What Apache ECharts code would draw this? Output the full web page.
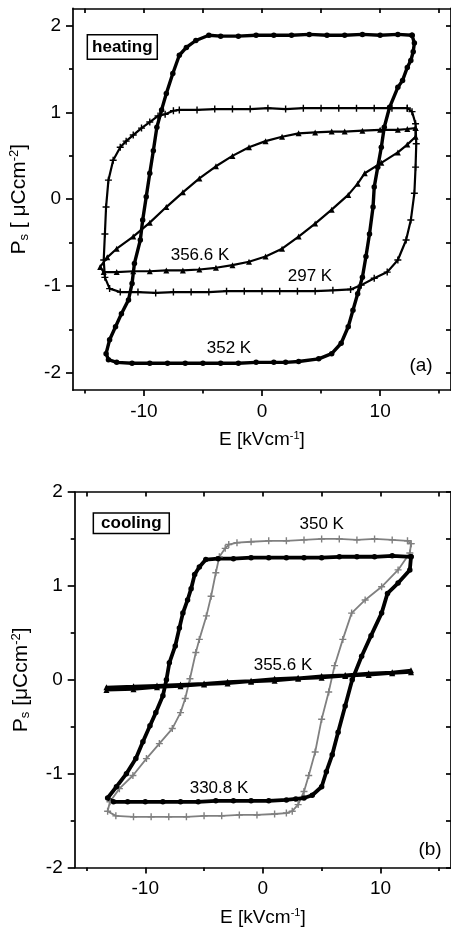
<!DOCTYPE html>
<html><head><meta charset="utf-8">
<script src="https://cdn.jsdelivr.net/npm/echarts@6/dist/echarts.min.js"></script>
<style>html,body{margin:0;padding:0;background:#fff}#c{width:451px;height:928px}</style>
</head><body><div id="c"></div>
<script>
// ---- tick values ----
const xMajorTicks = [-10, 0, 10];
const xMinorTicks = [-15, -5, 5, 15];
const xAllTicks = [-15, -10, -5, 0, 5, 10, 15];
const yMajorTicks = [-2, -1, 0, 1, 2];
const yMinorTicks = [-1.5, -0.5, 0.5, 1.5];
const yAllTicks = [-2, -1.5, -1, -0.5, 0, 0.5, 1, 1.5, 2];

// ---- (a) heating: [E (kV/cm), Ps (uC/cm2)] ----
const heat352 = [[12.7,1.89],[11.5,1.90],[10,1.89],[8.5,1.90],[7,1.89],[5.5,1.89],[4,1.90],[2.5,1.89],[1,1.89],[-0.5,1.89],[-2,1.88],[-3.5,1.88],[-4.5,1.89],[-5.6,1.83],[-6.4,1.75],[-7.0,1.66],[-7.55,1.45],[-8.1,1.22],[-8.5,1.03],[-8.9,0.83],[-9.2,0.56],[-9.5,0.30],[-9.8,0.03],[-10.1,-0.24],[-10.3,-0.47],[-10.8,-0.74],[-11.0,-0.97],[-11.3,-1.16],[-11.9,-1.32],[-12.4,-1.47],[-12.9,-1.62],[-13.2,-1.78],[-13.0,-1.85],[-12.3,-1.88],[-11,-1.89],[-9.5,-1.89],[-8,-1.89],[-6.5,-1.89],[-5,-1.89],[-3.5,-1.89],[-2,-1.89],[-0.5,-1.88],[1,-1.88],[2,-1.88],[3.1,-1.87],[4.8,-1.84],[5.9,-1.78],[6.7,-1.66],[7.3,-1.47],[7.7,-1.28],[8.1,-1.09],[8.5,-0.90],[8.8,-0.66],[9.1,-0.40],[9.4,-0.09],[9.5,0.14],[9.8,0.37],[10.1,0.60],[10.35,0.83],[10.8,1.06],[11.5,1.29],[11.9,1.37],[12.3,1.52],[12.6,1.60],[12.8,1.70],[12.9,1.80],[12.7,1.89]];
const heat297 = [[12.3,1.05],[11,1.05],[9.5,1.05],[8,1.05],[6.5,1.05],[5,1.05],[3.5,1.05],[2,1.04],[0.5,1.05],[-1,1.04],[-2.5,1.04],[-4,1.04],[-5.5,1.03],[-7,1.03],[-7.5,1.02],[-8.2,0.98],[-8.8,0.96],[-9.5,0.89],[-10.2,0.82],[-10.9,0.74],[-11.5,0.67],[-12.0,0.60],[-12.6,0.45],[-13.0,0.22],[-13.2,-0.09],[-13.3,-0.40],[-13.4,-0.70],[-13.3,-0.90],[-12.9,-1.03],[-12.0,-1.07],[-10.5,-1.07],[-9,-1.08],[-7.5,-1.07],[-6,-1.07],[-4.5,-1.07],[-3,-1.06],[-1.5,-1.06],[0,-1.06],[1.5,-1.06],[3,-1.06],[4.5,-1.06],[6,-1.05],[7.5,-1.04],[8.4,-0.99],[9.5,-0.91],[10.6,-0.84],[11.5,-0.70],[12.2,-0.47],[12.6,-0.24],[12.9,0.07],[13.0,0.37],[13.06,0.64],[13.0,0.87],[12.7,1.01],[12.3,1.05]];
const heat3566 = [[13.0,0.82],[12.3,0.81],[11.5,0.80],[10,0.80],[8.5,0.79],[7,0.78],[5.9,0.78],[4.5,0.77],[3.1,0.76],[1.7,0.72],[0.3,0.67],[-1.1,0.60],[-2.5,0.50],[-3.9,0.38],[-5.3,0.24],[-6.7,0.08],[-8.1,-0.09],[-9.5,-0.27],[-10.9,-0.43],[-12.3,-0.57],[-13.1,-0.67],[-13.7,-0.78],[-13.4,-0.84],[-12.3,-0.84],[-10.9,-0.83],[-9.5,-0.83],[-8.1,-0.82],[-6.7,-0.82],[-5.3,-0.81],[-3.9,-0.79],[-2.5,-0.76],[-1.1,-0.72],[0.3,-0.66],[1.7,-0.57],[3.1,-0.43],[4.5,-0.28],[5.9,-0.12],[7.3,0.05],[8.1,0.18],[8.7,0.30],[10.1,0.42],[11.5,0.54],[12.3,0.63],[13.0,0.72],[13.0,0.82]];

// ---- (b) cooling ----
const cool3308 = [[12.6,1.31],[11,1.32],[9.5,1.31],[8,1.31],[6.5,1.31],[5,1.30],[3.5,1.30],[2,1.30],[0.5,1.30],[-1,1.30],[-2.5,1.29],[-3.8,1.29],[-4.85,1.28],[-5.4,1.20],[-5.8,1.12],[-6.1,0.97],[-6.4,0.85],[-6.8,0.71],[-7.1,0.55],[-7.45,0.36],[-7.95,0.18],[-8.2,0.0],[-8.5,-0.17],[-9.1,-0.35],[-9.6,-0.49],[-10.2,-0.66],[-10.8,-0.84],[-11.6,-1.00],[-12.45,-1.14],[-13.2,-1.26],[-12.7,-1.30],[-11.5,-1.30],[-10,-1.30],[-8.5,-1.30],[-7,-1.30],[-5.5,-1.30],[-4,-1.29],[-2.5,-1.29],[-1,-1.29],[0.5,-1.29],[2,-1.28],[2.8,-1.27],[3.5,-1.26],[4.2,-1.23],[5.0,-1.14],[5.4,-0.98],[5.9,-0.80],[6.4,-0.56],[7.0,-0.28],[7.6,0.0],[8.4,0.25],[9.2,0.47],[10.1,0.71],[10.6,0.92],[11.5,1.03],[12.5,1.17],[12.6,1.31]];
const cool350 = [[12.6,1.45],[12.3,1.48],[11,1.49],[9.5,1.50],[8,1.49],[6.5,1.50],[5,1.50],[3.5,1.49],[2,1.48],[0.5,1.48],[-1,1.47],[-2.2,1.46],[-2.9,1.44],[-3.2,1.40],[-3.7,1.31],[-4.0,1.14],[-4.4,0.89],[-4.8,0.68],[-5.4,0.43],[-5.7,0.29],[-6.2,0.01],[-6.6,-0.20],[-7.0,-0.35],[-7.7,-0.52],[-8.8,-0.68],[-9.9,-0.84],[-11.05,-1.02],[-12.2,-1.16],[-13.0,-1.30],[-13.2,-1.40],[-12.5,-1.45],[-11,-1.46],[-9.5,-1.46],[-8,-1.46],[-6.5,-1.46],[-5,-1.45],[-3.5,-1.45],[-2,-1.44],[-0.5,-1.44],[1,-1.43],[2.0,-1.42],[2.5,-1.40],[3.0,-1.33],[3.5,-1.19],[3.9,-1.02],[4.45,-0.77],[5.0,-0.42],[5.6,-0.13],[6.1,0.15],[6.8,0.43],[7.55,0.71],[8.7,0.85],[10.1,0.99],[11.5,1.17],[12.5,1.35],[12.6,1.45]];
const cool3556 = [[12.6,0.10],[11,0.08],[9,0.07],[7,0.05],[5,0.04],[3,0.02],[1,0.01],[-1,-0.01],[-3,-0.02],[-5,-0.04],[-7,-0.05],[-9,-0.06],[-11,-0.07],[-13.3,-0.08],[-13.3,-0.11],[-11,-0.10],[-9,-0.08],[-7,-0.07],[-5,-0.05],[-3,-0.04],[-1,-0.02],[1,-0.01],[3,0.01],[5,0.02],[7,0.04],[9,0.05],[11,0.07],[12.6,0.08]];

const FONT = '"Liberation Sans", Arial, sans-serif';
const PLUS = 'path://M4,0H6V4H10V6H6V10H4V6H0V4H4Z';
const AX = {color:'#000', width:1.7};

function xAxes(grid, nameText){
  return [
    {gridIndex:grid, type:'value', position:'bottom', min:-16, max:16,
     axisLine:{show:true, onZero:false, lineStyle:AX},
     axisTick:{show:true, inside:false, length:6, customValues:xMajorTicks, lineStyle:AX},
     axisLabel:{show:true, customValues:xMajorTicks, margin:12, color:'#000', fontSize:19, fontFamily:FONT},
     splitLine:{show:false},
     name:nameText, nameLocation:'middle', nameGap:40,
     nameTextStyle:{color:'#000', fontSize:19, fontFamily:FONT,
       rich:{n:{fontSize:19,fontFamily:FONT,color:'#000'}, sup:{fontSize:11,fontFamily:FONT,color:'#000',padding:[0,0,9,0]}}}},
    {gridIndex:grid, type:'value', position:'bottom', min:-16, max:16,
     axisLine:{show:false, onZero:false},
     axisTick:{show:true, inside:false, length:3.5, customValues:xMinorTicks, lineStyle:AX},
     axisLabel:{show:false}, splitLine:{show:false}},
    {gridIndex:grid, type:'value', position:'top', min:-16, max:16,
     axisLine:{show:true, onZero:false, lineStyle:AX},
     axisTick:{show:true, inside:true, length:4.5, customValues:xAllTicks, lineStyle:AX},
     axisLabel:{show:false}, splitLine:{show:false}}
  ];
}
function yAxes(grid, ymin, ymax, nameText){
  return [
    {gridIndex:grid, type:'value', position:'left', min:ymin, max:ymax,
     axisLine:{show:true, onZero:false, lineStyle:AX},
     axisTick:{show:true, inside:false, length:7, customValues:yMajorTicks, lineStyle:AX},
     axisLabel:{show:true, customValues:yMajorTicks, margin:12, color:'#000', fontSize:19, fontFamily:FONT},
     splitLine:{show:false},
     name:nameText, nameLocation:'middle', nameGap:42, nameRotate:90,
     nameTextStyle:{color:'#000', fontSize:21, fontFamily:FONT,
       rich:{n:{fontSize:21,fontFamily:FONT,color:'#000'},
             sub:{fontSize:13,fontFamily:FONT,color:'#000',padding:[9,0,0,0]},
             sup:{fontSize:13,fontFamily:FONT,color:'#000',padding:[0,0,10,0]}}}},
    {gridIndex:grid, type:'value', position:'left', min:ymin, max:ymax,
     axisLine:{show:false, onZero:false},
     axisTick:{show:true, inside:false, length:4, customValues:yMinorTicks, lineStyle:AX},
     axisLabel:{show:false}, splitLine:{show:false}},
    {gridIndex:grid, type:'value', position:'right', min:ymin, max:ymax,
     axisLine:{show:true, onZero:false, lineStyle:AX},
     axisTick:{show:true, inside:true, length:5, customValues:yAllTicks, lineStyle:AX},
     axisLabel:{show:false}, splitLine:{show:false}}
  ];
}

function loop(data, xi, yi, symbol, size, color, lw){
  return {type:'line', xAxisIndex:xi, yAxisIndex:yi, data:data, symbol:symbol, symbolSize:size,
    showSymbol:true, showAllSymbol:true, lineStyle:{color:color, width:lw}, itemStyle:{color:color},
    silent:true, animation:false, z:3};
}

const chart = echarts.init(document.getElementById('c'), null, {renderer:'canvas'});
chart.setOption({
  animation:false,
  backgroundColor:'#fff',
  grid:[
    {left:72.5, top:8.4, width:381.3, height:381.7},
    {left:74.7, top:492, width:378.6, height:377.7}
  ],
  xAxis: xAxes(0, '{n|E [kVcm}{sup|-1}{n|]}').concat(xAxes(1, '{n|E [kVcm}{sup|-1}{n|]}')),
  yAxis: yAxes(0, -2.2, 2.2, '{n|P}{sub|s}{n| [ μCcm}{sup|-2}{n|]}').concat(yAxes(1, -2, 2, '{n|P}{sub|s}{n| [μCcm}{sup|-2}{n|]}')),
  series:[
    loop(heat297, 0, 0, PLUS, 7, '#000', 2.2),
    loop(heat3566, 0, 0, 'triangle', 6, '#000', 2.2),
    loop(heat352, 0, 0, 'circle', 5.5, '#000', 3.4),
    loop(cool350, 3, 3, PLUS, 7, '#808080', 1.8),
    loop(cool3556, 3, 3, 'triangle', 6, '#000', 3),
    loop(cool3308, 3, 3, 'circle', 5.5, '#000', 3.8)
  ],
  graphic:[
    {type:'text', x:122.3, y:47, style:{text:'heating', font:'bold 17px '+FONT, fill:'#000', align:'center', verticalAlign:'middle',
      backgroundColor:'#fff', borderColor:'#000', borderWidth:1.5, padding:[3,4,3,4]}, z:10},
    {type:'text', x:131.3, y:523.3, style:{text:'cooling', font:'bold 17px '+FONT, fill:'#000', align:'center', verticalAlign:'middle',
      backgroundColor:'#fff', borderColor:'#000', borderWidth:1.5, padding:[1,7,1,7]}, z:10},
    {type:'text', x:200, y:255, style:{text:'356.6 K', font:'17px '+FONT, fill:'#000', align:'center', verticalAlign:'middle'}, z:10},
    {type:'text', x:310, y:276.5, style:{text:'297 K', font:'17px '+FONT, fill:'#000', align:'center', verticalAlign:'middle'}, z:10},
    {type:'text', x:229, y:348, style:{text:'352 K', font:'17px '+FONT, fill:'#000', align:'center', verticalAlign:'middle'}, z:10},
    {type:'text', x:421, y:366, style:{text:'(a)', font:'19px '+FONT, fill:'#000', align:'center', verticalAlign:'middle'}, z:10},
    {type:'text', x:321.7, y:524, style:{text:'350 K', font:'17px '+FONT, fill:'#000', align:'center', verticalAlign:'middle'}, z:10},
    {type:'text', x:283, y:665, style:{text:'355.6 K', font:'17px '+FONT, fill:'#000', align:'center', verticalAlign:'middle'}, z:10},
    {type:'text', x:219, y:788, style:{text:'330.8 K', font:'17px '+FONT, fill:'#000', align:'center', verticalAlign:'middle'}, z:10},
    {type:'text', x:430, y:850, style:{text:'(b)', font:'19px '+FONT, fill:'#000', align:'center', verticalAlign:'middle'}, z:10}
  ]
});
</script></body></html>
